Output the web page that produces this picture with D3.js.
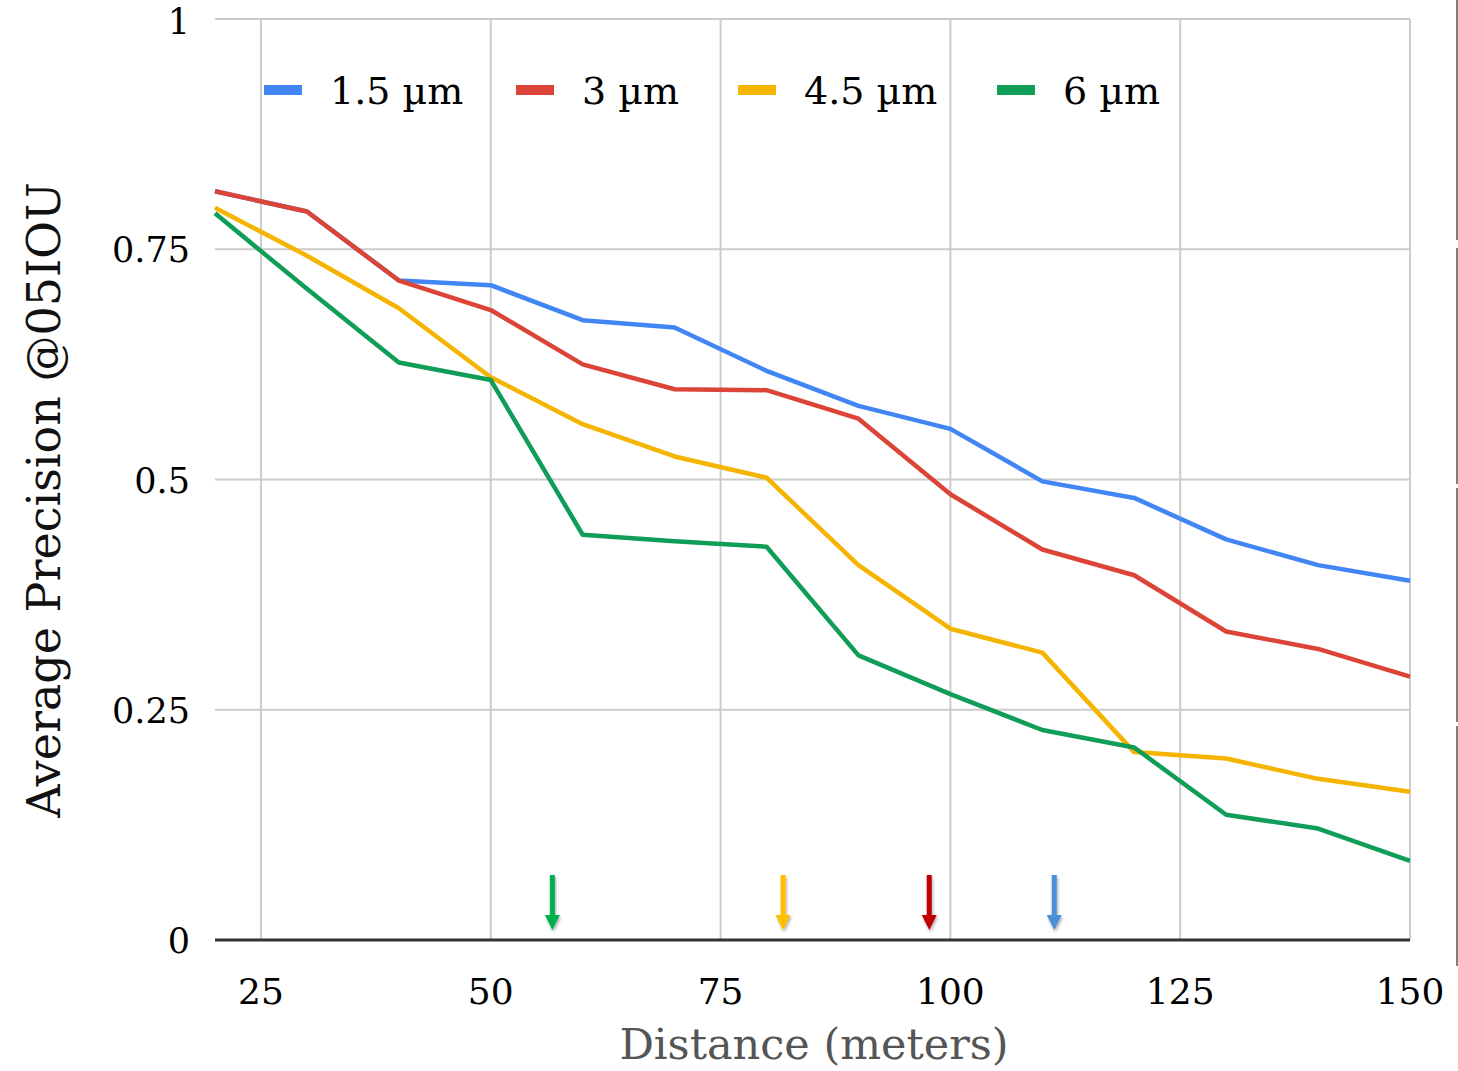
<!DOCTYPE html>
<html><head><meta charset="utf-8">
<script src="https://cdn.jsdelivr.net/npm/d3@7"></script>
<style>body{margin:0;background:#fff}svg{display:block}</style>
</head><body>
<svg id="c" width="1458" height="1071"></svg>
<script>
const distances = [20,30,40,50,60,70,80,90,100,110,120,130,140,150];
const seriesNames = ["1.5 µm","3 µm","4.5 µm","6 µm"];
const seriesColors = ["#4285f4","#db4437","#f4b400","#0f9d58"];
const ap15 = [0.813,0.791,0.716,0.711,0.673,0.665,0.618,0.580,0.555,0.498,0.480,0.435,0.407,0.390];
const ap3  = [0.813,0.791,0.716,0.684,0.625,0.598,0.597,0.566,0.484,0.424,0.396,0.335,0.316,0.286];
const ap45 = [0.795,0.743,0.686,0.611,0.560,0.525,0.502,0.407,0.338,0.312,0.204,0.197,0.175,0.161];
const ap6  = [0.789,0.707,0.627,0.608,0.440,0.433,0.427,0.309,0.267,0.228,0.209,0.136,0.121,0.086];
const seriesValues = [ap15, ap3, ap45, ap6];
const xTicks = [25,50,75,100,125,150];
const yTicks = [0,0.25,0.5,0.75,1];
const yTickLabels = ["0","0.25","0.5","0.75","1"];
const arrowDistances = [56.7, 81.8, 97.7, 111.3];
const arrowColors = ["#00b050","#ffc000","#c00000","#4a90d9"];

const svg = d3.select("#c");
const font = "'DejaVu Serif', 'Liberation Serif', serif";
const x = d3.scaleLinear().domain([20,150]).range([215,1410]);
const y = d3.scaleLinear().domain([0,1]).range([940,19]);

const defs = svg.append("defs");
const f = defs.append("filter").attr("id","sh").attr("x","-50%").attr("y","-20%").attr("width","200%").attr("height","150%");
f.append("feDropShadow").attr("dx",1).attr("dy",2).attr("stdDeviation",1.5).attr("flood-color","#000").attr("flood-opacity",0.35);

// gridlines
svg.append("g").selectAll("line").data(yTicks.filter(d=>d>0)).join("line")
  .attr("x1",x(20)).attr("x2",x(150)).attr("y1",d=>y(d)).attr("y2",d=>y(d))
  .attr("stroke","#cccccc").attr("stroke-width",2);
svg.append("g").selectAll("line").data(xTicks).join("line")
  .attr("x1",d=>x(d)).attr("x2",d=>x(d)).attr("y1",y(1)).attr("y2",y(0))
  .attr("stroke","#cccccc").attr("stroke-width",2);

// lines
const line = d3.line().x((d,i)=>x(distances[i])).y(d=>y(d));
seriesValues.forEach((vals,k)=>{
  svg.append("path").datum(vals).attr("d",line).attr("fill","none")
    .attr("stroke",seriesColors[k]).attr("stroke-width",4.5).attr("stroke-linejoin","round");
});

// baseline
svg.append("line").attr("x1",x(20)).attr("x2",x(150)).attr("y1",y(0)).attr("y2",y(0))
  .attr("stroke","#333").attr("stroke-width",3);

// arrows
const ag = svg.append("g").attr("filter","url(#sh)");
arrowDistances.forEach((d,i)=>{
  const cx = x(d);
  ag.append("rect").attr("x",cx-2.5).attr("y",875).attr("width",5).attr("height",42).attr("fill",arrowColors[i]);
  ag.append("path").attr("d",`M${cx-7.5},915 L${cx+7.5},915 L${cx},930 Z`).attr("fill",arrowColors[i]);
});

// y ticks
svg.append("g").selectAll("text").data(yTicks).join("text")
  .attr("x",190).attr("y",d=>Math.max(y(d)+13, 34)).attr("text-anchor","end")
  .attr("font-family",font).attr("font-size",35).attr("fill","#000")
  .text((d,i)=>yTickLabels[i]);
// x ticks
svg.append("g").selectAll("text").data(xTicks).join("text")
  .attr("x",d=>x(d)).attr("y",1004).attr("text-anchor","middle")
  .attr("font-family",font).attr("font-size",36).attr("fill","#000")
  .text(d=>d);

// axis titles
svg.append("text").attr("x",814).attr("y",1059).attr("text-anchor","middle")
  .attr("font-family",font).attr("font-size",43).attr("fill","#555")
  .text("Distance (meters)");
svg.append("text").attr("transform","translate(60,500) rotate(-90)").attr("text-anchor","middle")
  .attr("font-family",font).attr("font-size",46).attr("fill","#111")
  .text("Average Precision @05IOU");

// legend
const legX = [264,516,738,997];
seriesNames.forEach((n,i)=>{
  svg.append("rect").attr("x",legX[i]).attr("y",85).attr("width",38).attr("height",10).attr("fill",seriesColors[i]);
  svg.append("text").attr("x",legX[i]+66).attr("y",104).attr("font-family",font).attr("font-size",38).attr("fill","#000").text(n);
});

// right edge segmented line
const segs = [[0,240],[248,484],[488,722],[726,966]];
svg.append("g").selectAll("line").data(segs).join("line")
  .attr("x1",1457).attr("x2",1457).attr("y1",d=>d[0]).attr("y2",d=>d[1])
  .attr("stroke","#555").attr("stroke-width",1.5);
</script>
</body></html>
